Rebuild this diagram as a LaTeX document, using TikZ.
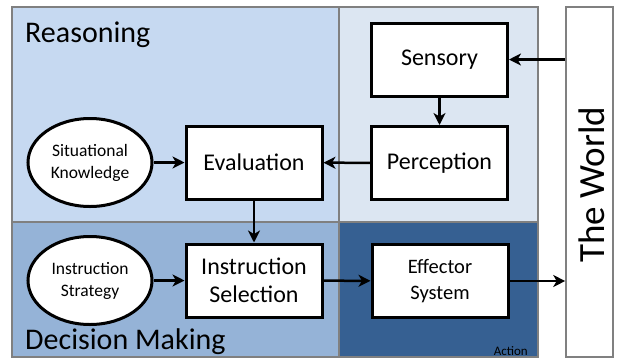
\documentclass[tikz,border=0pt]{standalone}
\usepackage{fontspec}
\setmainfont{Carlito}
\usetikzlibrary{arrows.meta,shapes.geometric}
\definecolor{reasonbg}{HTML}{C6D9F1}
\definecolor{perceivebg}{HTML}{DCE6F2}
\definecolor{decidebg}{HTML}{95B3D7}
\definecolor{actbg}{HTML}{366092}
\definecolor{panelline}{HTML}{808080}
\tikzset{
  panel/.style={draw=panelline,line width=1.6pt},
  block/.style={draw=black,fill=white,line width=3pt,minimum width=136pt,minimum height=73pt,inner sep=0pt,align=center,font=\fontsize{24}{28.5}\selectfont},
  oval/.style={ellipse,draw=black,fill=white,line width=3pt,minimum width=124pt,minimum height=88pt,inner sep=0pt,align=center,font=\fontsize{17.5}{22}\selectfont},
  link/.style={line width=2.5pt,-{Stealth[length=12pt,width=12pt,inset=3.5pt]}},
  title/.style={font=\fontsize{30}{32}\selectfont,anchor=base west,inner sep=0pt}
}
\begin{document}
\begin{tikzpicture}[x=1pt,y=-1pt]
\useasboundingbox (0,0) rectangle (619,360);
\fill[white] (0,0) rectangle (619,360);
% the four panels
\draw[panel,fill=reasonbg] (12,7) rectangle (339,222);
\draw[panel,fill=perceivebg] (339,7) rectangle (538,222);
\draw[panel,fill=decidebg] (12,222) rectangle (339,357);
\draw[panel,fill=actbg] (339,222) rectangle (538,357);
% the world
\node[panel,fill=white,minimum width=47pt,minimum height=350pt,inner sep=0pt] (world) at (589.5,182) {};
\node[rotate=90,font=\fontsize{37}{37}\selectfont,inner sep=0pt] (worldtext) at (592,185) {The World};
% panel titles
\node[title] (reasoning) at (25,42) {Reasoning};
\node[title] (deciding) at (25,349) {Decision Making};
\node[font=\fontsize{13}{13}\selectfont,anchor=base east,inner sep=0pt] (action) at (528,355) {Action};
% blocks
\node[block] (sensory) at (439.5,59.5) {Sensory};
\node[block] (perception) at (439.5,163) {Perception};
\node[block] (evaluation) at (254,162.5) {Evaluation};
\node[block] (selection) at (254,280.5) {Instruction\\Selection};
\node[block,font=\fontsize{20.5}{25.5}\selectfont] (effector) at (440,281) {Effector\\System};
\node[oval] (situational) at (90,162.5) {Situational\\Knowledge};
\node[oval] (strategy) at (90,280.5) {Instruction\\Strategy};
% connectors
\draw[link] (world.west |- sensory.east) -- (sensory.east);
\draw[link] (sensory) -- (perception);
\draw[link] (perception) -- (evaluation);
\draw[link] (situational) -- (evaluation);
\draw[link] (evaluation) -- (selection);
\draw[link] (strategy) -- (selection);
\draw[link] (selection) -- (effector);
\draw[link] (effector.east) -- (world.west |- effector.east);
\end{tikzpicture}
\end{document}
